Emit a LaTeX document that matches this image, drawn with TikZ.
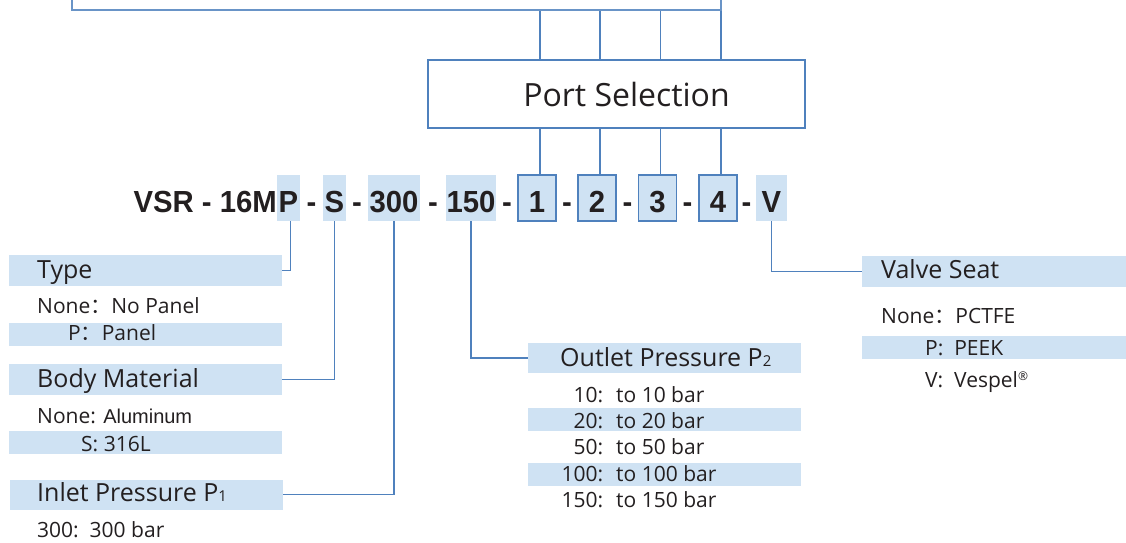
\documentclass[tikz,border=0pt]{standalone}
\usepackage{fontspec}
\setmainfont{Open Sans}
\newfontfamily\codefont[FakeStretch=0.96]{Liberation Sans}
\newfontfamily\armfont{Liberation Sans}
\newfontfamily\cjk{Noto Sans CJK SC}
\usepackage{xcolor}
\usepackage{tikz}
\usetikzlibrary{positioning, calc}
\definecolor{linkblue}{HTML}{4F81BD}
\definecolor{barblue}{HTML}{CFE2F3}
\definecolor{inkgray}{HTML}{231F20}
\newcommand{\fcolon}{{\cjk ：}}
\newcommand{\subnum}[1]{{\fontsize{15pt}{15pt}\selectfont #1}}
\tikzset{
  codebox/.style={
    rectangle,
    inner sep=0pt,
    minimum height=46pt,
    text height=28pt,
    text depth=0pt,
    text=inkgray,
    font=\codefont\bfseries\fontsize{30.5pt}{30pt}\selectfont
  },
  codefill/.style={
    codebox,
    fill=barblue
  },
  digitbox/.style={
    codefill,
    draw=linkblue,
    line width=1.2pt,
    minimum width=38pt
  },
  portbox/.style={
    rectangle,
    draw=linkblue,
    line width=1.8pt,
    minimum width=377pt,
    minimum height=68pt,
    text=inkgray,
    font=\fontsize{32pt}{32pt}\selectfont
  },
  notebox/.style={
    rectangle,
    draw=linkblue!85,
    line width=2pt,
    minimum width=649pt,
    minimum height=40pt
  },
  titlebar/.style={
    rectangle,
    fill=barblue,
    inner sep=0pt,
    minimum width=273pt,
    minimum height=31pt
  },
  optbar/.style={
    titlebar,
    minimum height=23pt
  },
  titletext/.style={
    anchor=base west,
    inner sep=0pt,
    text=inkgray,
    font=\fontsize{25pt}{25pt}\selectfont
  },
  opttext/.style={
    anchor=base west,
    inner sep=0pt,
    text=inkgray,
    font=\fontsize{21pt}{21pt}\selectfont
  },
  link/.style={
    draw=linkblue,
    line width=1.2pt
  }
}

\begin{document}
\begin{tikzpicture}[x=1pt, y=-1pt]
  \useasboundingbox (0,0) rectangle (1126,542);

  % ordering code
  \node[codebox, anchor=east] (prefix) at (277,198) {VSR - 16M};
  \node[codefill, minimum width=23pt] (pcode) at (288.5,198) {P};
  \node[codebox] (dash1) at (311.5,198) {-};
  \node[codefill, minimum width=23pt] (scode) at (334.5,198) {S};
  \node[codebox] (dash2) at (357,198) {-};
  \node[codefill, minimum width=52pt] (icode) at (394,198) {300};
  \node[codebox] (dash3) at (433,198) {-};
  \node[codefill, minimum width=50pt] (ocode) at (471,198) {150};
  \node[codebox] (dash4) at (507,198) {-};
  \node[digitbox] (d1) at (537,198) {1};
  \node[codebox] (dash5) at (567,198) {-};
  \node[digitbox] (d2) at (597,198) {2};
  \node[codebox] (dash6) at (627.5,198) {-};
  \node[digitbox] (d3) at (657.5,198) {3};
  \node[codebox] (dash7) at (687.5,198) {-};
  \node[digitbox] (d4) at (718,198) {4};
  \node[codebox] (dash8) at (746.5,198) {-};
  \node[codefill, minimum width=31pt] (vcode) at (771.5,198) {V};

  % port selection
  \node[portbox] (port) at (616.5,94) {\hspace{20pt}Port Selection};
  \node[notebox] (note) at (396.5,-10) {};

  % bars
  \node[titlebar] (typebar) at (145.5,270.5) {};
  \node[optbar] (panelbar) at (145.5,334.5) {};
  \node[titlebar] (bodybar) at (145.5,379.5) {};
  \node[optbar] (steelbar) at (145.5,442.5) {};
  \node[titlebar, minimum height=30pt] (inletbar) at (146,494.5) {};
  \node[titlebar, minimum height=30pt] (outletbar) at (664.5,358) {};
  \node[optbar] (p20bar) at (664.5,419.5) {};
  \node[optbar] (p100bar) at (664.5,474.5) {};
  \node[titlebar] (valvebar) at (998.5,271.5) {};
  \node[optbar] (peekbar) at (998.5,347.5) {};

  % left texts
  \node[titletext] (typetext) at (37,278) {Type};
  \node[opttext] (nopanel) at (37,313) {None\fcolon No Panel};
  \node[opttext] (panel) at (68,340) {P\fcolon Panel};
  \node[titletext] (bodytext) at (37,387) {Body Material};
  \node[opttext] (alu) at (37,423) {None: {\armfont\fontsize{20pt}{20pt}\selectfont Aluminum}};
  \node[opttext] (steel) at (81,451) {S: 316L};
  \node[titletext] (inlettext) at (37,501) {Inlet Pressure P\subnum{1}};
  \node[opttext] (p300) at (37,537) {300:\ \ 300 bar};

  % outlet texts
  \node[titletext] (outlettext) at (560,366) {Outlet Pressure P\subnum{2}};
  \foreach \val/\y in {10/402, 20/428, 50/454, 100/481, 150/507}
    \node[opttext] (p\val) at (561,\y) {\makebox[42pt][r]{\val:}\hspace{13pt}to \val\ bar};

  % valve seat texts
  \node[titletext] (valvetext) at (881,278) {Valve Seat};
  \node[opttext] (pctfe) at (881,323) {None\fcolon PCTFE};
  \node[opttext] (peek) at (925,355) {P:\ \ PEEK};
  \node[opttext] (vespel) at (925,387) {V:\ \ Vespel\raisebox{7pt}{\fontsize{12pt}{12pt}\selectfont ®}};

  % connectors
  \draw[link] ([xshift=2pt]pcode.south) |- (typebar.east);
  \draw[link] (scode.south) |- (bodybar.east);
  \draw[link] (icode.south) |- (inletbar.east);
  \draw[link] (ocode.south) |- (outletbar.west);
  \draw[link] (vcode.south) |- (valvebar.west);
  \foreach \d in {d1,d2,d3,d4} {
    \draw[link] ([xshift=3pt]\d.north) -- ([xshift=3pt]\d.north |- port.south);
    \draw[link] ([xshift=3pt]\d.north |- port.north) -- ([xshift=3pt]\d.north |- note.south);
  }
\end{tikzpicture}
\end{document}
